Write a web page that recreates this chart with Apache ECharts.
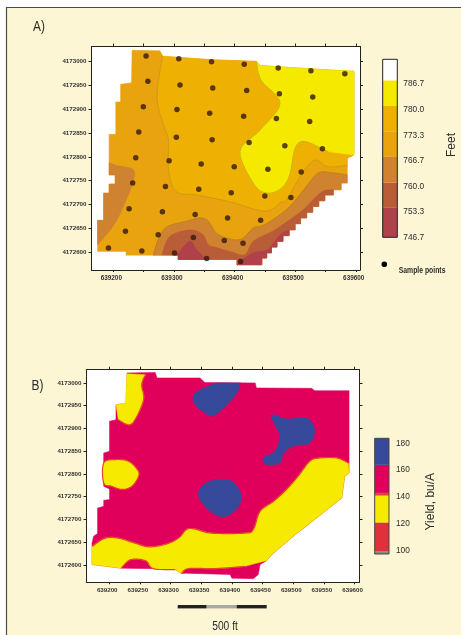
<!DOCTYPE html>
<html>
<head>
<meta charset="utf-8">
<style>
html,body{margin:0;padding:0;background:#fff}
#c{width:461px;height:635px;filter:blur(0.5px)}
</style>
<script src="https://cdn.jsdelivr.net/npm/echarts@6/dist/echarts.min.js"></script>
</head>
<body>
<div id="c"></div>
<script>
// False origin of the map grid (easting, northing); all map points are offsets from it.
const EAST0 = 639000, NORTH0 = 4172000;

// ---- tick labels ----
const eastTicks = [639200,639250,639300,639350,639400,639450,639500,639550,639600];
const eastLabelsA = [639200,639300,639400,639500,639600];
const eastLabelsB = [639200,639250,639300,639350,639400,639450,639500,639550,639600];
const northTicks = [4172600,4172650,4172700,4172750,4172800,4172850,4172900,4172950,4173000];

// ---- Panel A: elevation contours (offsets) ----
const samplePoints = [
 [254,1011],[308,1005.5],[362,999],[416,994],[472,986],[526,980],[582,974],
 [257,958],[310,950.5],[364,944],[420,939],[474,932],[529,925.5],
 [249.5,905],[305,899],[359,891],[415,885],[469,880],[524,874],
 [242,852],[304,841],[363,836],[424,830],[483,823],[545,817],
 [237,798],[292,792],[345,785],[399.5,779],[455,774],[510,768],
 [232,745],[286,738],[341,732],[394.5,725],[450,718],[493,715],
 [226,691],[281,685],[335,679],[388.5,672],[443,667],
 [220,644],[274,637],[332,631],[383,625],[414,619],
 [192,609],[247,603],[301,598.5],[354,587],[410,581]
];
const fieldANorth = [[231,1023],[277,1022],[282,1010],[365,1003],[436,1000],[442,991],[541,983],[597,979],[597,804],[586,797]];
const fieldAStairs = [[586,745],[576,745],[576,731],[563,731],[563,720],[549,720],[549,708],[539,708],[539,696],[529,696],[529,684],[519,684],[519,672],[509,672],[509,660],[500,660],[500,647],[490,647],[490,635],[480,635],[480,623],[470,623],[470,611],[461,611],[461,599],[453,599],[453,588],[445,588],[445,574],[404,574],[404,585],[307,585],[307,594]];
const fieldAWest = [[221,594],[221,602],[174,602],[174,667],[184,667],[184,724],[193,724],[193,743],[203,743],[203,762],[193,762],[193,847],[204,847],[204,915],[212,915],[212,952],[230,955]];
const westBrownEdge = [[193,788],[205,782],[234,772],[230,738],[219,703],[203,661],[184,630],[174,616]];
const westBrownSide = [[174,667],[184,667],[184,724],[193,724],[193,743],[203,743],[203,762],[193,762]];
const goldTop = [[365,1003],[436,1000],[442,991],[541,983],[597,979],[597,804],[586,797]];
const goldEdge = [[586,782],[554,779],[532,793],[510,762],[486,710],[477,705],[450,686],[392,706],[337,720],[304,727],[291,772],[291,835],[282,870],[272,926],[281,1011]];
const yellowTop = [[442,991],[541,983],[597,979],[597,804]];
const yellowEdge = [[554,811],[516,832],[500,818],[491,762],[477,734],[455,724],[433,741],[409,811],[442,856],[475,912],[444,960],[436,1000]];
const lightBrownEdge = [[586,762],[563,766],[538,766],[516,734],[488,692],[450,658],[431,651],[412,628],[392,628],[370,640],[357,665],[343,672],[321,665],[288,653],[274,626],[266,594]];
const lightBrownBase = [[307,594],[307,585],[404,585],[404,574],[445,574],[445,588],[453,588],[453,599],[461,599],[461,611],[470,611],[470,623],[480,623],[480,635],[490,635],[490,647],[500,647],[500,660],[509,660],[509,672],[519,672],[519,684],[529,684],[529,696],[539,696],[539,708],[549,708],[549,720],[563,720],[563,731],[576,731],[576,745],[586,745]];
const midBrownEdge = [[563,731],[543,726],[510,686],[466,647],[431,623],[417,595],[392,602],[373,609],[357,616],[348,637],[326,647],[293,633],[280,595]];
const midBrownBase = [[307,594],[307,585],[404,585],[404,574],[445,574],[445,588],[453,588],[453,599],[461,599],[461,611],[470,611],[470,623],[480,623],[480,635],[490,635],[490,647],[500,647],[500,660],[509,660],[509,672],[519,672],[519,684],[529,684],[529,696],[539,696],[539,708],[549,708],[549,720],[563,720]];
const redWestEdge = [[304,594],[326,623],[337,606],[351,588]];
const redWestBase = [[351,585],[307,585],[307,594]];
const redEastEdge = [[406,579],[431,599],[455,606],[475,637],[490,647]];
const redEastBase = [[490,635],[480,635],[480,623],[470,623],[470,611],[461,611],[461,599],[453,599],[453,588],[445,588],[445,574],[404,574]];

// ---- Panel A: colour bar ----
const feetTicks = [746.7,753.3,760.0,766.7,773.3,780.0,786.7];
const feetBands = [[746.7,754.4],[754.4,761],[761,767.7],[767.7,774.4],[774.4,781],[781,787.7],[787.7,793.2]];

// ---- Panel B: yield zones (offsets) ----
const fieldBNorth = [[229,1022],[275,1023],[278,1011],[348,1011],[356,1001],[438,1000],[440,989],[530,988],[535,983],[591,983]];
const fieldBEast = [[591,802],[584,795],[579,747],[500,663],[465,623],[457,610]];
const fieldBSouth = [[446,601],[443,579],[435,570],[400,571],[397,579],[324,582],[318,581],[307.5,590],[272,592],[219.5,593],[172,601]];
const fieldBWest = [[172,648],[174.5,663],[181,669],[181,725],[191,729],[191,742],[200.5,744],[200.5,767],[191,773],[191,846],[200.5,850],[200.5,916],[211,919],[211,952],[228,955]];
const southYellowTop = [[172,641],[193.5,659],[215,659],[242,648],[264,640],[291,645],[313,659],[326,678],[340,679],[367,670],[421,670],[435,678],[446,718],[468,740],[489,766],[508,795],[527,828],[543.5,835],[571,835],[590,824]];
const southYellowEast = [[591,802],[584,795],[579,747],[500,663],[465,623],[457,610]];
const southYellowPatches = [[421,597],[373,592],[329,592],[318,581]];
const southYellowHump = [[307.5,590],[272,592],[261,608],[245,613],[231.5,609.5],[219.5,593]];
const southYellowEnd = [[172,601]];
const nwYellowEdge = [[259,1018],[253,996],[256,963],[242,919],[231.5,908],[215,919]];
const nwYellowSide = [[211,952],[226,956],[229,1020]];
const westYellow = [[191,824],[210,831.5],[231.5,828],[246,809.5],[248,795],[237,773],[221,766],[204,773],[191,780]];
const blueNorthTop = [[375,1000],[414,1000]];
const blueNorthEdge = [[414,1000],[408,978],[392,952],[370,928],[356,934],[340,952],[337,971],[348,985],[375,1000]];
const blueEast = [[465,930],[489,921],[522,923],[535,897],[527,868],[500,861],[484,845],[478,824],[457,820.5],[451,835],[470,850],[478,883],[470,908]];
const blueSouth = [[345,755],[354,777],[375,787.5],[400,784],[414,758],[413,733],[397,711],[378,707],[356,729]];

// ---- Panel B: colour bar ----
const yieldTicks = [100,120,140,160,180];
const yieldBands = [[97.5,99.3],[99.3,121],[121,141],[141,143],[143,163.9],[163.9,183.7]];

// ---- styles, kept apart from the values ----
const C = {cream:'#fdf6d4',frame:'#4a4a48',ink:'#2b2b2b',
 orange:'#e9a30f',gold:'#eeb002',yellow:'#f5e900',lbrown:'#cf8230',mbrown:'#b95c38',red:'#b0404a',
 magenta:'#e0005c',blue:'#36499a',ylw2:'#f6ea00',rim:'#e8432c',red2:'#e0303a',grey:'#8a8a80'};
const feetColors = [C.red,C.mbrown,C.lbrown,C.orange,C.gold,C.yellow,'#ffffff'];
const yieldColors = [C.grey,C.red2,C.ylw2,C.rim,C.magenta,C.blue];
const SANS = '"Liberation Sans",sans-serif';

const abs = p => [EAST0+p[0], NORTH0+p[1]];

// Rounds an edge when it is drawn (Catmull-Rom through the read points); the data stay as read.
function curve(pts, closed){
  const out=[], n=pts.length, at=i=> closed ? pts[(i+n)%n] : pts[Math.max(0,Math.min(n-1,i))];
  const last = closed ? n : n-1;
  for(let i=0;i<last;i++){
    const a=at(i-1),b=at(i),c=at(i+1),d=at(i+2);
    for(let k=0;k<8;k++){
      const t=k/8,t2=t*t,t3=t2*t;
      out.push([0,1].map(j=>0.5*(2*b[j]+(c[j]-a[j])*t+(2*a[j]-5*b[j]+4*c[j]-d[j])*t2+(3*b[j]-a[j]-3*c[j]+d[j])*t3)));
    }
  }
  if(!closed) out.push(pts[n-1]);
  return out;
}
let series = [];
// parts: arrays of points; those wrapped by R() are rounded when drawn.
const R = pts => ({round:pts});
const rawOf = parts => parts.flatMap(p=>p.round||p);
const drawOf = parts => parts.flatMap(p=>p.round?curve(p.round,false):p);
function poly(parts, g, fill){
  const pts=drawOf(parts);
  series.push({type:'custom',coordinateSystem:'cartesian2d',xAxisIndex:g*2,yAxisIndex:g*2,
    silent:true,animation:false,clip:true,z:2,data:rawOf(parts).map(abs),encode:{x:0,y:1},
    renderItem:(params,api)=> params.dataIndex!==0 ? null : ({
      type:'polygon',shape:{points:pts.map(p=>api.coord(abs(p)))},
      style:{fill:fill,stroke:fill,lineWidth:0.5}
    })
  });
}
function blob(raw, g, fill, rim){
  const pts=curve(raw,true);
  series.push({type:'custom',coordinateSystem:'cartesian2d',xAxisIndex:g*2,yAxisIndex:g*2,
    silent:true,animation:false,clip:true,z:2,data:raw.map(abs),encode:{x:0,y:1},
    renderItem:(params,api)=> params.dataIndex!==0 ? null : ({
      type:'polygon',shape:{points:pts.map(p=>api.coord(abs(p)))},
      style:{fill:fill,stroke:rim||fill,lineWidth:rim?1.2:0.5}
    })
  });
}
function line(raw, g, color, lw){
  const pts=curve(raw,false);
  series.push({type:'custom',coordinateSystem:'cartesian2d',xAxisIndex:g*2,yAxisIndex:g*2,
    silent:true,animation:false,z:3,data:raw.map(abs),encode:{x:0,y:1},
    renderItem:(params,api)=> params.dataIndex!==0 ? null : ({
      type:'polyline',shape:{points:pts.map(p=>api.coord(abs(p)))},
      style:{fill:null,stroke:color,lineWidth:lw||1}
    })
  });
}
// Panel A
poly([fieldANorth,fieldAStairs,fieldAWest],0,C.orange);
poly([R(westBrownEdge),westBrownSide],0,C.lbrown);
poly([goldTop,R(goldEdge)],0,C.gold);
line(goldEdge,0,'#cf9a12',1);
poly([yellowTop,R(yellowEdge)],0,C.yellow);
line(yellowEdge,0,'#cfb014',1);
poly([R(lightBrownEdge),lightBrownBase],0,C.lbrown);
line(lightBrownEdge,0,'#c08418',1);
poly([R(midBrownEdge),midBrownBase],0,C.mbrown);
poly([R(redWestEdge),redWestBase],0,C.red);
poly([R(redEastEdge),redEastBase],0,C.red);
series.push({type:'scatter',name:'Sample points',xAxisIndex:0,yAxisIndex:0,z:5,silent:true,animation:false,
  symbolSize:5.5,itemStyle:{color:'#33190a'},data:samplePoints.map(abs)});
// Panel B
poly([fieldBNorth,fieldBEast,fieldBSouth,fieldBWest],1,C.magenta);
poly([R(southYellowTop),southYellowEast,R(southYellowPatches),R(southYellowHump),southYellowEnd],1,C.ylw2);
line(southYellowTop,1,C.rim,1.2);
line(southYellowPatches,1,C.rim,1.2);
line(southYellowHump,1,C.rim,1.2);
poly([R(nwYellowEdge),nwYellowSide],1,C.ylw2);
line(nwYellowEdge,1,C.rim,1.2);
blob(westYellow,1,C.ylw2,C.rim);
poly([blueNorthTop,R(blueNorthEdge)],1,C.blue);
blob(blueEast,1,C.blue);
blob(blueSouth,1,C.blue);

function bands(list, colors, idx){
  series.push({type:'custom',coordinateSystem:'cartesian2d',xAxisIndex:idx,yAxisIndex:idx,
    silent:true,animation:false,data:list.map((b,i)=>[0,b[0],b[1],i]),encode:{y:[1,2]},
    renderItem:(params,api)=>{
      const a=api.coord([0,api.value(1)]), b=api.coord([1,api.value(2)]);
      return {type:'rect',shape:{x:a[0],y:b[1],width:b[0]-a[0],height:a[1]-b[1]},
        style:{fill:colors[api.value(3)]}};
    }});
}
bands(feetBands,feetColors,4);
bands(yieldBands,yieldColors,5);

const tickLbl = (size)=>({fontFamily:SANS,fontSize:size,color:'#333',fontWeight:'bold'});
const eastRangeA=[639164,639607], northRangeA=[4172563,4173031];
const eastRangeB=[639163,639608], northRangeB=[4172562,4173029];
function axesX(range,labels,size,margin){
  return [
   {type:'value',min:range[0],max:range[1],position:'bottom',
    axisLine:{show:true,lineStyle:{color:'#222',width:1}},splitLine:{show:false},
    axisTick:{show:true,length:2,customValues:eastTicks,lineStyle:{color:'#222',width:1}},
    axisLabel:{show:true,customValues:labels,formatter:v=>String(v),margin:margin,padding:[0,4,0,0],...tickLbl(size)}},
   {type:'value',min:range[0],max:range[1],position:'top',
    axisLine:{show:true,lineStyle:{color:'#222',width:1}},splitLine:{show:false},
    axisTick:{show:true,length:3,customValues:eastTicks,lineStyle:{color:'#222',width:1}},
    axisLabel:{show:false}}
  ];
}
function axesY(range,size,margin){
  return [
   {type:'value',min:range[0],max:range[1],position:'left',
    axisLine:{show:true,lineStyle:{color:'#222',width:1}},splitLine:{show:false},
    axisTick:{show:true,length:3,customValues:northTicks,lineStyle:{color:'#222',width:1}},
    axisLabel:{show:true,customValues:northTicks,formatter:v=>String(v),margin:margin,padding:[0,0,2,0],...tickLbl(size)}},
   {type:'value',min:range[0],max:range[1],position:'right',
    axisLine:{show:true,lineStyle:{color:'#222',width:1}},splitLine:{show:false},
    axisTick:{show:true,length:3,customValues:northTicks,lineStyle:{color:'#222',width:1}},
    axisLabel:{show:false}}
  ];
}
const xs=[...axesX(eastRangeA,eastLabelsA,6.4,5),...axesX(eastRangeB,eastLabelsB,6.2,5)];
const ys=[...axesY(northRangeA,6.2,5),...axesY(northRangeB,6.2,5)];
xs.forEach((a,i)=>a.gridIndex=i<2?0:1);
ys.forEach((a,i)=>a.gridIndex=i<2?0:1);
xs.push({type:'value',gridIndex:2,min:0,max:1,show:false},{type:'value',gridIndex:3,min:0,max:1,show:false});
const barAxis=(g,min,max,ticks,fmt,margin)=>({type:'value',gridIndex:g,min,max,position:'right',
  axisLine:{show:false},axisTick:{show:false},splitLine:{show:false},
  axisLabel:{show:true,customValues:ticks,formatter:fmt,margin:margin,fontFamily:SANS,fontSize:8.3,color:'#2b2b2b',hideOverlap:false}});
ys.push(barAxis(2,746.7,793.2,feetTicks,v=>v.toFixed(1),6),barAxis(3,97.5,183.7,yieldTicks,v=>String(v),7));

const T=(text,x,y,size,o={})=>({type:'text',x,y,rotation:o.rot||0,scaleX:o.sx||1,z:20,
  style:{text,fill:C.ink,font:`${o.weight||'normal'} ${size}px ${SANS}`,align:o.align||'left',verticalAlign:'middle'}});

const chart=echarts.init(document.getElementById('c'),null,{renderer:'canvas'});
chart.setOption({
  animation:false,
  backgroundColor:'transparent',
  grid:[
    {left:91.5,top:46.5,width:268.5,height:223.5,show:true,backgroundColor:'#ffffff',borderWidth:0},
    {left:86.5,top:369.7,width:273,height:212.6,show:true,backgroundColor:'#ffffff',borderWidth:0},
    {left:382.7,top:59.3,width:14.6,height:178,show:true,borderColor:'#222',borderWidth:1,backgroundColor:'transparent',z:4},
    {left:374.7,top:438.3,width:14.3,height:115.7,show:true,borderColor:'#444',borderWidth:1,backgroundColor:'transparent',z:4}
  ],
  xAxis:xs,yAxis:ys,series,
  graphic:[
    {type:'rect',z:-10,silent:true,shape:{x:6.5,y:7.5,width:470,height:650},style:{fill:C.cream,stroke:C.frame,lineWidth:1.2}},
    T('A)',33,27,14,{sx:0.85}),
    T('B)',31.5,386,14,{sx:0.85}),
    T('Feet',452,145,12,{rot:Math.PI/2,align:'center'}),
    T('Yield, bu/A',430.7,501.7,12,{rot:Math.PI/2,align:'center'}),
    {type:'circle',z:20,shape:{cx:384.3,cy:264.3,r:2.8},style:{fill:'#000'}},
    T('Sample points',398.7,271,9,{weight:'bold',sx:0.76}),
    {type:'rect',z:20,shape:{x:177.7,y:605,width:29,height:3.4},style:{fill:'#222'}},
    {type:'rect',z:20,shape:{x:206.7,y:605,width:30,height:3.4},style:{fill:'#a8a8a4'}},
    {type:'rect',z:20,shape:{x:236.7,y:605,width:30,height:3.4},style:{fill:'#222'}},
    T('500 ft',225,626.7,12.5,{align:'center',sx:0.82})
  ]
});
</script>
</body>
</html>
